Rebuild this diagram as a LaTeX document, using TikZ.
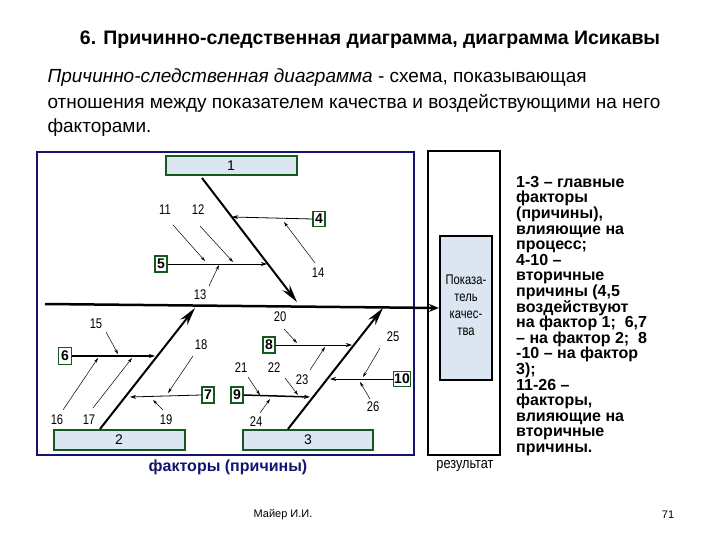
\documentclass[tikz,border=0pt]{standalone}
\usepackage{fontspec}
\setmainfont{Liberation Sans}
\usetikzlibrary{arrows.meta}
\definecolor{grn}{RGB}{20,90,30}
\definecolor{lbl}{RGB}{220,230,242}
\definecolor{nv}{RGB}{20,20,110}
\begin{document}
\begin{tikzpicture}[x=1pt,y=-1pt,
 mainbox/.style={draw=grn,line width=2pt,fill=lbl,inner sep=0pt},
 sbox/.style={draw=grn,line width=1.3pt,fill=white,inner sep=0pt,font=\bfseries\fontsize{14}{14}\selectfont},
 num/.style={font=\fontsize{14}{14}\selectfont,inner sep=0pt,xscale=0.8},
 thin/.style={line width=0.5pt,-{Stealth[length=5pt,width=3pt]}},
 sec/.style={line width=0.8pt,-{Stealth[length=6pt,width=4pt]}},
 bone/.style={line width=2pt,-{Stealth[length=18pt,width=9pt]}}]
\useasboundingbox (0,0) rectangle (720,540);
% header
\node (title) at (370,40) {\bfseries\fontsize{19.5}{20}\selectfont 6. Причинно-следственная диаграмма, диаграмма Исикавы};
\node[anchor=west] (p1) at (44,78) {\fontsize{19}{19}\selectfont\itshape Причинно-следственная диаграмма \upshape - схема, показывающая};
\node[anchor=west] (p2) at (44,103) {\fontsize{19}{19}\selectfont отношения между показателем качества и воздействующими на него};
\node[anchor=west] (p3) at (44,128) {\fontsize{19}{19}\selectfont факторами.};
% frames
\draw[nv,line width=2pt] (37,152) rectangle (414,455);
\draw[line width=1.5pt] (428,151) rectangle (500,455);
\node[draw,line width=2.2pt,fill=lbl,minimum width=52pt,minimum height=144pt,inner sep=0pt] (res) at (466,308) {};
\node[align=center,font=\fontsize{14}{17}\selectfont,xscale=0.8] (restxt) at (466,305) {Показа-\\тель\\качес-\\тва};
% boxes
\node[mainbox,minimum width=131pt,minimum height=19pt] (b1) at (231,166) {\fontsize{14}{14}\selectfont 1};
\node[mainbox,minimum width=131pt,minimum height=20pt] (b2) at (119,440) {\fontsize{14}{14}\selectfont 2};
\node[mainbox,minimum width=130pt,minimum height=20pt] (b3) at (308,440) {\fontsize{14}{14}\selectfont 3};
\node[sbox,minimum width=12pt,minimum height=15pt] (b4) at (319,219) {4};
\node[sbox,minimum width=12pt,minimum height=16pt] (b5) at (161,264) {5};
\node[sbox,minimum width=13pt,minimum height=17pt] (b6) at (65,356) {6};
\node[sbox,minimum width=12pt,minimum height=16pt] (b7) at (208,395) {7};
\node[sbox,minimum width=12pt,minimum height=16pt] (b8) at (269,345) {8};
\node[sbox,minimum width=12pt,minimum height=16pt] (b9) at (237,395) {9};
\node[sbox,minimum width=17pt,minimum height=15pt] (b10) at (402,379) {10};
% spine
\coordinate (s0) at (45,304);
\draw[line width=2.5pt,-{Stealth[length=10pt,width=8pt]}] (s0) -- (res.west);
% bones
\coordinate (e1) at (297,302);
\coordinate (e2) at (195,308);
\coordinate (e3) at (383,308);
\draw[bone] (202,178) -- (e1);
\draw[bone] (100,429) -- (e2);
\draw[bone] (288,429) -- (e3);
% secondary arrows
\coordinate (t4) at (232,217); \coordinate (t5) at (267,264);
\coordinate (t6) at (155,356); \coordinate (t7) at (130,397);
\coordinate (t8) at (352,345); \coordinate (t9) at (310,397);
\coordinate (t10) at (330,379);
\draw[sec] (b4.west) -- (t4);
\draw[sec] (b5.east) -- (t5);
\draw[sec,line width=1.5pt] (b6.east) -- (t6);
\draw[sec] (b7.west) -- (t7);
\draw[sec] (b8.east) -- (t8);
\draw[sec,line width=1.5pt] (b9.east) -- (t9);
\draw[sec] (b10.west) -- (t10);
% tertiary labels
\node[num] (n11) at (165,210) {11}; \draw[thin] (173,225) -- (205,261);
\node[num] (n12) at (198,210) {12}; \draw[thin] (200,226) -- (233,262);
\node[num] (n13) at (200,295) {13}; \draw[thin] (209,286) -- (219,265);
\node[num] (n14) at (318,273) {14}; \draw[thin] (315,263) -- (284,222);
\node[num] (n15) at (96,324) {15}; \draw[thin] (106,332) -- (118,354);
\node[num] (n16) at (57,420) {16}; \draw[thin] (63,410) -- (98,358);
\node[num] (n17) at (89,420) {17}; \draw[thin] (93,408) -- (132,358);
\node[num] (n18) at (201,345) {18}; \draw[thin] (193,356) -- (168,393);
\node[num] (n19) at (166,420) {19}; \draw[thin] (163,410) -- (153,400);
\node[num] (n20) at (280,317) {20}; \draw[thin] (284,329) -- (297,343);
\node[num] (n21) at (241,368) {21}; \draw[thin] (248,377) -- (260,395);
\node[num] (n22) at (274,368) {22}; \draw[thin] (285,378) -- (298,395);
\node[num] (n23) at (302,380) {23}; \draw[thin] (310,370) -- (325,347);
\node[num] (n24) at (256,422) {24}; \draw[thin] (260,413) -- (270,399);
\node[num] (n25) at (393,337) {25}; \draw[thin] (380,348) -- (363,377);
\node[num] (n26) at (373,407) {26}; \draw[thin] (370,399) -- (360,382);
% captions
\node[text=nv,font=\bfseries\fontsize{16}{16}\selectfont] (cap1) at (228,467) {факторы (причины)};
\node[font=\fontsize{15}{15}\selectfont,xscale=0.85] (cap2) at (465,466) {результат};
\node[anchor=north west,align=left,font=\bfseries\fontsize{16}{15.6}\selectfont,inner sep=0pt] (legend) at (516,176) {1-3 -- главные\\факторы\\(причины),\\влияющие на\\процесс;\\4-10 --\\вторичные\\причины (4,5\\воздействуют\\на фактор 1;~ 6,7\\-- на фактор 2;~ 8\\-10 -- на фактор\\3);\\11-26 --\\факторы,\\влияющие на\\вторичные\\причины.};
\node[font=\fontsize{11}{11}\selectfont] (auth) at (283,515) {Майер И.И.};
\node[font=\fontsize{11}{11}\selectfont] (pg) at (668,515) {71};
\end{tikzpicture}
\end{document}
